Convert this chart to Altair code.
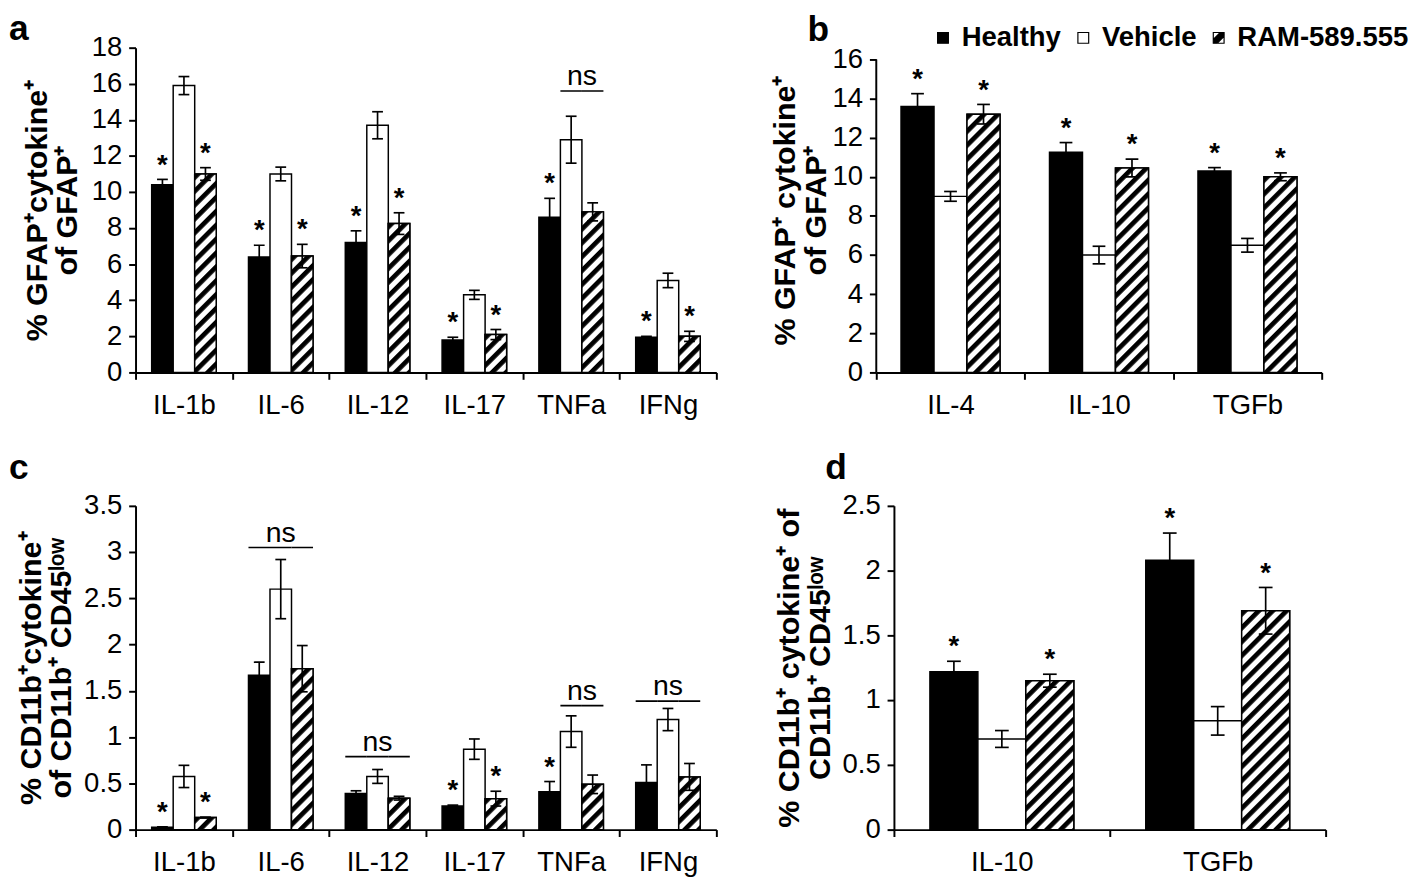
import base64
import altair as alt
import pandas as pd

FONT = "Liberation Sans"
GROUPS = ["Healthy", "Vehicle", "RAM-589.555"]
GROUP_FILLS = ["black", "white", "black"]

# ---------------- panel a ----------------
a_categories = ["IL-1b", "IL-6", "IL-12", "IL-17", "TNFa", "IFNg"]
a_healthy = [10.4, 6.4, 7.2, 1.8, 8.6, 1.95]
a_healthy_err = [0.3, 0.65, 0.65, 0.15, 1.05, 0.05]
a_vehicle = [15.9, 11.0, 13.7, 4.3, 12.9, 5.1]
a_vehicle_err = [0.5, 0.38, 0.75, 0.25, 1.3, 0.4]
a_ram = [11.0, 6.45, 8.25, 2.1, 8.9, 2.0]
a_ram_err = [0.35, 0.65, 0.6, 0.28, 0.5, 0.28]
a_star_healthy = [True, True, True, True, True, True]
a_star_ram = [True, True, True, True, False, True]
a_ns_categories = ["TNFa"]
a_ns_span = ["vehicle-ram"]
a_ns_level = [15.6]
a_y_ticks = [0, 2, 4, 6, 8, 10, 12, 14, 16, 18]

# ---------------- panel b ----------------
b_categories = ["IL-4", "IL-10", "TGFb"]
b_healthy = [13.6, 11.25, 10.3]
b_healthy_err = [0.65, 0.5, 0.17]
b_vehicle = [9.0, 6.0, 6.5]
b_vehicle_err = [0.25, 0.45, 0.35]
b_ram = [13.2, 10.45, 10.0]
b_ram_err = [0.5, 0.45, 0.2]
b_star_healthy = [True, True, True]
b_star_ram = [True, True, True]
b_y_ticks = [0, 2, 4, 6, 8, 10, 12, 14, 16]

# ---------------- panel c ----------------
c_categories = ["IL-1b", "IL-6", "IL-12", "IL-17", "TNFa", "IFNg"]
c_healthy = [0.025, 1.67, 0.39, 0.255, 0.41, 0.51]
c_healthy_err = [0.005, 0.14, 0.03, 0.01, 0.11, 0.19]
c_vehicle = [0.575, 2.6, 0.575, 0.87, 1.06, 1.19]
c_vehicle_err = [0.12, 0.32, 0.075, 0.11, 0.17, 0.12]
c_ram = [0.13, 1.74, 0.34, 0.335, 0.49, 0.57]
c_ram_err = [0.005, 0.25, 0.02, 0.08, 0.1, 0.145]
c_star_healthy = [True, False, False, True, True, False]
c_star_ram = [True, False, False, True, False, False]
c_ns_categories = ["IL-6", "IL-12", "TNFa", "IFNg"]
c_ns_span = ["all", "all", "vehicle-ram", "all"]
c_ns_level = [3.05, 0.79, 1.34, 1.39]
c_y_ticks = [0, 0.5, 1, 1.5, 2, 2.5, 3, 3.5]

# ---------------- panel d ----------------
d_categories = ["IL-10", "TGFb"]
d_healthy = [1.22, 2.08]
d_healthy_err = [0.08, 0.21]
d_vehicle = [0.70, 0.84]
d_vehicle_err = [0.065, 0.11]
d_ram = [1.15, 1.69]
d_ram_err = [0.05, 0.18]
d_star_healthy = [True, True]
d_star_ram = [True, True]
d_y_ticks = [0, 0.5, 1, 1.5, 2, 2.5]

# diagonal hatch used to paint the RAM-589.555 bars
HATCH_SVG = (
    "<svg xmlns='http://www.w3.org/2000/svg'>"
    "<defs><pattern id='h' width='10' height='10' patternUnits='userSpaceOnUse' "
    "patternTransform='rotate(45)'>"
    "<rect width='10' height='10' fill='white'/>"
    "<rect width='4.8' height='10' fill='black'/>"
    "</pattern></defs>"
    "<rect width='100%' height='100%' fill='url(#h)'/></svg>"
)
HATCH_URL = "data:image/svg+xml;base64," + base64.b64encode(HATCH_SVG.encode()).decode()
HATCH_SYMBOL = "M-1,-1L1,-1L1,1L-1,1Z M-1,-1L-1,0.3L0.3,-1Z M1,1L1,-0.3L-0.3,1Z"


def make_panel(cats, healthy, healthy_err, vehicle, vehicle_err, ram, ram_err,
               star_h, star_r, ns_cats, ns_span, ns_level,
               y_max, y_ticks, y_fmt, y_title, letter, width, height,
               letter_dx, letter_offset, title_pad, cap, legend=None,
               axis_top=None):
    rows = []
    for i, c in enumerate(cats):
        for g, vals, errs, stars in ((GROUPS[0], healthy, healthy_err, star_h),
                                     (GROUPS[1], vehicle, vehicle_err, None),
                                     (GROUPS[2], ram, ram_err, star_r)):
            rows.append({"cat": c, "grp": g, "val": vals[i], "mid": vals[i] / 2,
                         "lo": vals[i] - errs[i], "hi": vals[i] + errs[i],
                         "star": "*" if (stars is not None and stars[i]) else ""})
    df = pd.DataFrame(rows)

    x_axis = alt.Axis(title=None, labelAngle=0, tickBand="extent", grid=False,
                      domainColor="black", domainWidth=2, tickColor="black",
                      tickWidth=2, tickSize=7, labelFont=FONT, labelFontSize=28,
                      labelColor="black", labelPadding=13)
    X = alt.X("cat:N", sort=cats,
              scale=alt.Scale(domain=cats, paddingInner=0, paddingOuter=0),
              axis=x_axis)
    XO = alt.XOffset("grp:N",
                     scale=alt.Scale(domain=GROUPS, paddingInner=0, paddingOuter=0.75))
    y_axis = alt.Axis(title=y_title, values=y_ticks, format=y_fmt, grid=False,
                      domain=axis_top is None, domainColor="black", domainWidth=2,
                      tickColor="black", tickWidth=2, tickSize=7,
                      labelFont=FONT, labelFontSize=28, labelColor="black",
                      labelPadding=7, titleFont=FONT, titleFontSize=31,
                      titleFontWeight="bold", titleColor="black",
                      titlePadding=title_pad, titleLineHeight=31)
    ysc = alt.Scale(domain=[0, y_max], nice=False, zero=True)

    def Y(field):
        return alt.Y(f"{field}:Q", scale=ysc, axis=y_axis)

    bar_color = alt.Color("grp:N", scale=alt.Scale(domain=GROUPS, range=GROUP_FILLS),
                          legend=None)

    layers = []
    if legend is not None:
        # legend source: points sit hidden inside the bars drawn over them
        layers.append(
            alt.Chart(df).mark_point(
                filled=True, strokeWidth=1.2, opacity=1, size=121).encode(
                x=X, xOffset=XO, y=Y("mid"),
                fill=alt.Fill("grp:N", scale=alt.Scale(domain=GROUPS, range=GROUP_FILLS),
                              legend=legend),
                stroke=alt.Stroke("grp:N",
                                  scale=alt.Scale(domain=GROUPS,
                                                  range=["black", "black", "black"]),
                                  legend=legend),
                shape=alt.Shape("grp:N",
                                scale=alt.Scale(domain=GROUPS,
                                                range=["square", "square", HATCH_SYMBOL]),
                                legend=legend)))

    is_ram = alt.datum.grp == GROUPS[2]
    layers += [
        alt.Chart(df).mark_bar(stroke="black", strokeWidth=1.5).encode(
            x=X, xOffset=XO, y=Y("val"), y2=alt.datum(0), color=bar_color),
        alt.Chart(df).transform_filter(is_ram).mark_image(url=HATCH_URL, aspect=False).encode(
            x=X, xOffset=XO, y=Y("val"), y2=alt.datum(0)),
        alt.Chart(df).transform_filter(is_ram).mark_bar(
            fillOpacity=0, stroke="black", strokeWidth=1.5).encode(
            x=X, xOffset=XO, y=Y("val"), y2=alt.datum(0)),
        alt.Chart(df).mark_rule(color="black", strokeWidth=1.7).encode(
            x=X, xOffset=XO, y=Y("lo"), y2="hi:Q"),
        alt.Chart(df).mark_tick(orient="horizontal", color="black", thickness=1.7,
                                size=cap, opacity=1).encode(x=X, xOffset=XO, y=Y("hi")),
        alt.Chart(df).mark_tick(orient="horizontal", color="black", thickness=1.7,
                                size=cap, opacity=1).encode(x=X, xOffset=XO, y=Y("lo")),
        alt.Chart(df).transform_filter("datum.star != ''").mark_text(
            font=FONT, fontSize=28, fontWeight="bold", color="black",
            baseline="alphabetic", dy=-6).encode(
            x=X, xOffset=XO, y=Y("hi"), text="star:N"),
    ]

    if ns_cats:
        line_rows, text_rows = [], []
        for c, span, lvl in zip(ns_cats, ns_span, ns_level):
            covered = GROUPS if span == "all" else GROUPS[1:]
            for g in covered:
                line_rows.append({"cat": c, "grp": g, "level": lvl})
            text_rows.append({"cat": c, "grp": GROUPS[1], "level": lvl,
                              "span": span, "label": "ns"})
        ns_line_df = pd.DataFrame(line_rows)
        ns_text_df = pd.DataFrame(text_rows)
        bar_w = width / len(cats) / 4.5
        layers += [
            alt.Chart(ns_line_df).mark_bar(fillOpacity=0, stroke="black",
                                           strokeWidth=1.7).encode(
                x=X, xOffset=XO, y=Y("level"), y2="level:Q"),
            alt.Chart(ns_text_df).transform_filter("datum.span == 'all'").mark_text(
                font=FONT, fontSize=29, color="black", baseline="alphabetic", dy=-6).encode(
                x=X, xOffset=XO, y=Y("level"), text="label:N"),
            alt.Chart(ns_text_df).transform_filter("datum.span != 'all'").mark_text(
                font=FONT, fontSize=29, color="black", baseline="alphabetic", dy=-6,
                dx=bar_w / 2).encode(
                x=X, xOffset=XO, y=Y("level"), text="label:N"),
        ]

    if axis_top is not None:
        axis_df = pd.DataFrame({"lo": [0], "hi": [axis_top]})
        layers.append(alt.Chart(axis_df).mark_rule(color="black", strokeWidth=2).encode(
            x=alt.value(0), y=Y("lo"), y2="hi:Q"))

    title = alt.TitleParams(text=letter, anchor="start", frame="group", dx=letter_dx,
                            offset=letter_offset, fontSize=36, fontWeight="bold",
                            font=FONT, color="black", baseline="alphabetic")
    return alt.layer(*layers).properties(width=width, height=height, title=title)


legend_b = alt.Legend(
    title=None, orient="none", legendX=54, legendY=-24, direction="horizontal",
    labelFont=FONT, labelFontSize=28, labelFontWeight="bold", labelColor="black",
    labelLimit=400, symbolSize=121, symbolStrokeColor="black", symbolStrokeWidth=1.2,
    labelOffset=5, columnPadding=8, padding=0,
)

TOP_H = 331
BOTTOM_H = 330
# b: the 16 tick sits a little below the top of the plot, as in the figure
b_y_max = 16.6

panel_a = make_panel(a_categories, a_healthy, a_healthy_err, a_vehicle, a_vehicle_err,
                     a_ram, a_ram_err, a_star_healthy, a_star_ram,
                     a_ns_categories, a_ns_span, a_ns_level,
                     18, a_y_ticks, "d", ["% GFAP⁺cytokine⁺", "of GFAP⁺"], "a",
                     592, TOP_H, -129, -42, 8, 11)

panel_b = make_panel(b_categories, b_healthy, b_healthy_err, b_vehicle, b_vehicle_err,
                     b_ram, b_ram_err, b_star_healthy, b_star_ram,
                     [], [], [],
                     b_y_max, b_y_ticks, "d", ["% GFAP⁺ cytokine⁺", "of GFAP⁺"], "b",
                     454, TOP_H, -70, -53, 0, 13, legend=legend_b, axis_top=16)

panel_c = make_panel(c_categories, c_healthy, c_healthy_err, c_vehicle, c_vehicle_err,
                     c_ram, c_ram_err, c_star_healthy, c_star_ram,
                     c_ns_categories, c_ns_span, c_ns_level,
                     3.5, c_y_ticks, ".1~f", ["% CD11b⁺cytokine⁺", "of CD11b⁺ CD45ˡᵒʷ"],
                     "c", 592, BOTTOM_H, -129, -23, 6, 11)

panel_d = make_panel(d_categories, d_healthy, d_healthy_err, d_vehicle, d_vehicle_err,
                     d_ram, d_ram_err, d_star_healthy, d_star_ram,
                     [], [], [],
                     2.5, d_y_ticks, ".1~f", ["% CD11b⁺ cytokine⁺ of", "CD11b⁺ CD45ˡᵒʷ"],
                     "d", 440, BOTTOM_H, -70, -23, 6, 14)

RES = dict(color="independent", fill="independent", shape="independent",
           stroke="independent", xOffset="independent")
top = alt.hconcat(panel_a, panel_b, spacing=52).resolve_scale(**RES)
bottom = alt.hconcat(panel_c, panel_d, spacing=56).resolve_scale(**RES)

chart = (
    alt.vconcat(top, bottom, spacing=30)
    .resolve_scale(**RES)
    .properties(padding={"top": -6, "left": 0, "right": 0, "bottom": 0})
    .configure(font=FONT)
    .configure_view(stroke="transparent")
)

chart.save("out.html", embed_options={"renderer": "svg", "actions": False})
